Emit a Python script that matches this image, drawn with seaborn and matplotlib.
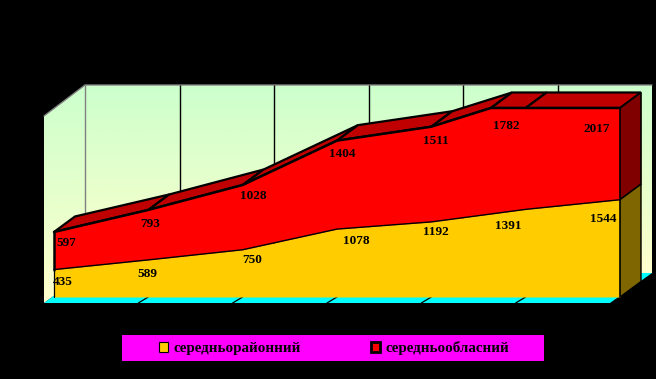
import numpy as np
import pandas as pd
import matplotlib
matplotlib.use("Agg")
import matplotlib.pyplot as plt
from matplotlib.colors import LinearSegmentedColormap
from matplotlib.patches import Polygon, Rectangle
import seaborn as sns

# ---- data -------------------------------------------------------------
periods = [0, 1, 2, 3, 4, 5, 6]
district_avg = [435, 589, 750, 1078, 1192, 1391, 1544]
region_avg = [597, 793, 1028, 1404, 1511, 1782, 2017]
series_names = ["середньорайонний", "середньообласний"]
axis_max = 3000

# ---- label nudges in pixels (x right, y down) ---------------------------
district_nudge = [(9, 12), (-1, 14), (10, 10), (19, 12), (5, 10), (-17, 17), (-17, 19)]
region_nudge = [(12, 11), (2, 14), (11, 11), (5, 13), (5, 14), (-19, 18), (-23, 21)]

W, H = 656, 379
PX_X = (620 - 54) / 6       # pixels per period
PX_Y = (297 - 108) / axis_max  # pixels per value unit
X0, Y0 = 54, 297


def dx(px):
    return (px - X0) / PX_X


def dy(py):
    return (Y0 - py) / PX_Y


DEPTH_X = 21 / PX_X
DEPTH_Y = 15.5 / PX_Y

sns.set_theme(style="white")
plt.rcParams["font.family"] = ["Liberation Serif", "DejaVu Serif"]

fig = plt.figure(figsize=(W / 100, H / 100), dpi=100, facecolor="black")
ax = fig.add_axes([0, 0, 1, 1], facecolor="black")

# walls ------------------------------------------------------------------
cmap = LinearSegmentedColormap.from_list("wall", ["#CCFFCC", "#FFFFCC"])
grad = np.linspace(0, 1, 128).reshape(-1, 1)
back = ax.imshow(grad, cmap=cmap, aspect="auto", origin="upper", zorder=1,
                 extent=(dx(85), dx(652), dy(273), dy(85)))
left = ax.imshow(grad, cmap=cmap, aspect="auto", origin="upper", zorder=1,
                 extent=(dx(44), dx(85), dy(303), dy(85)))
left_poly = Polygon([(dx(44), dy(116)), (dx(85), dy(85)), (dx(85), dy(273)),
                     (dx(44), dy(303))], transform=ax.transData, fc="none", ec="none")
ax.add_patch(left_poly)
left.set_clip_path(left_poly)
ax.add_patch(Polygon([(dx(44), dy(303)), (dx(610), dy(303)), (dx(652), dy(273)),
                      (dx(85), dy(273))], fc="#00FFFF", ec="none", lw=0, zorder=2))
ax.plot([dx(44), dx(85), dx(652)], [dy(116), dy(85), dy(85)], color="#808080", lw=1, zorder=3)
ax.plot([dx(85), dx(85)], [dy(85), dy(273)], color="#808080", lw=1, zorder=3)
ax.vlines([dx(85 + 94.5 * k) for k in range(1, 6)], dy(273), dy(85),
          color="black", lw=1, zorder=3)
for p in periods[1:-1]:
    ax.plot([p, p - 10 / PX_X], [0, dy(303)], color="black", lw=0.9, zorder=4)

# stacked series, cut at the axis maximum --------------------------------
lower = np.array(district_avg, dtype=float)
upper = lower + np.array(region_avg, dtype=float)
xs, top, base = [], [], []
for i, p in enumerate(periods):
    xs.append(p); top.append(upper[i]); base.append(lower[i])
    if i + 1 < len(periods) and upper[i] < axis_max < upper[i + 1]:
        t = (axis_max - upper[i]) / (upper[i + 1] - upper[i])
        xs.append(p + t)
        top.append(axis_max)
        base.append(lower[i] + t * (lower[i + 1] - lower[i]))
xs = np.array(xs)
top = np.minimum(top, axis_max)
base = np.array(base)

for i in range(len(xs) - 1):
    ax.add_patch(Polygon([(xs[i], top[i]), (xs[i + 1], top[i + 1]),
                          (xs[i + 1] + DEPTH_X, top[i + 1] + DEPTH_Y),
                          (xs[i] + DEPTH_X, top[i] + DEPTH_Y)],
                         fc="#C00000", ec="black", lw=1.6, zorder=5))

ax.add_patch(Polygon([(6, top[-1]), (6 + DEPTH_X, top[-1] + DEPTH_Y),
                      (6 + DEPTH_X, base[-1] + DEPTH_Y), (6, base[-1])],
                     fc="#800000", ec="black", lw=1.2, zorder=5))
ax.add_patch(Polygon([(6, base[-1]), (6 + DEPTH_X, base[-1] + DEPTH_Y),
                      (6 + DEPTH_X, DEPTH_Y), (6, 0)],
                     fc="#806600", ec="black", lw=1.0, zorder=5))

ax.fill_between(xs, 0, base, color="#FFCC00", lw=0, zorder=6, label=series_names[0])
ax.fill_between(xs, base, top, color="#FF0000", lw=0, zorder=6, label=series_names[1])

frame = pd.DataFrame({"x": xs, "base": base, "top": top})
sns.lineplot(data=frame, x="x", y="base", color="black", lw=1.0, ax=ax, zorder=7,
             estimator=None, legend=False)
sns.lineplot(data=frame, x="x", y="top", color="black", lw=1.8, ax=ax, zorder=7,
             estimator=None, legend=False)
ax.plot([0, 0], [base[0], top[0]], color="black", lw=1.8, zorder=7)
ax.plot([0, 0], [0, base[0]], color="black", lw=0.9, zorder=7)
ax.plot([6, 6], [0, top[-1]], color="black", lw=1.2, zorder=7)

# labels -----------------------------------------------------------------
for p, v, (nx, ny) in zip(periods, district_avg, district_nudge):
    ax.annotate(str(v), (p, v), xytext=(nx, -ny), textcoords="offset pixels",
                ha="center", va="center", fontsize=9.5, fontweight="bold",
                color="black", zorder=8)
for p, v, c, (nx, ny) in zip(periods, region_avg, upper, region_nudge):
    ax.annotate(str(v), (p, min(c, axis_max)), xytext=(nx, -ny), textcoords="offset pixels",
                ha="center", va="center", fontsize=9.5, fontweight="bold",
                color="black", zorder=8)

ax.set_xlim(dx(0), dx(W))
ax.set_ylim(dy(H), dy(0))
ax.set_xlabel("")
ax.set_ylabel("")
ax.set_xticks([])
ax.set_yticks([])
for s in ax.spines.values():
    s.set_visible(False)

# legend -----------------------------------------------------------------
ax.add_patch(Rectangle((122 / W, 1 - 361 / H), 422 / W, 26 / H, transform=fig.transFigure,
                       fc="#FF00FF", ec="none", zorder=9))
leg = ax.legend(loc="center left", bbox_to_anchor=(159 / W, 1 - 348 / H),
                bbox_transform=fig.transFigure, ncol=2, frameon=False,
                prop={"size": 10.8, "weight": "bold"}, handlelength=0.62, handleheight=0.62,
                handletextpad=0.33, columnspacing=4.7, borderpad=0, borderaxespad=0)
leg.set_zorder(10)
for patch, lw, col in zip(leg.get_patches(), [0.8, 2.0], ["#FFCC00", "#FF0000"]):
    patch.set_facecolor(col)
    patch.set_edgecolor("black")
    patch.set_linewidth(lw)
for t in leg.get_texts():
    t.set_color("black")

fig.savefig("out.png", dpi=100, facecolor="black")
